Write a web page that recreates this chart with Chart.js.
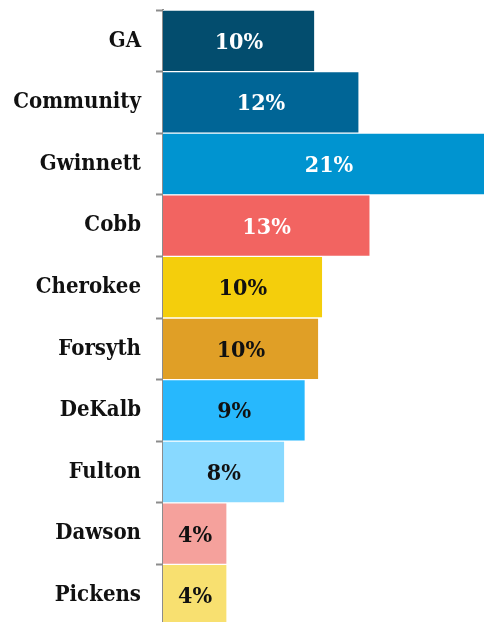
<!DOCTYPE html>
<html>
<head>
<meta charset="utf-8">
<script src="https://cdn.jsdelivr.net/npm/chart.js@4"></script>
<style>
  html, body { margin: 0; padding: 0; background: #fff; overflow: hidden; }
  #wrap { width: 484px; height: 630px; }
</style>
</head>
<body>
<div id="wrap"><canvas id="grafico" width="484" height="630"></canvas></div>
<script>
const areas = ["GA", "Community", "Gwinnett", "Cobb", "Cherokee", "Forsyth", "DeKalb", "Fulton", "Dawson", "Pickens"];
const shares = [9.6, 12.4, 21.0, 13.1, 10.1, 9.85, 9.0, 7.7, 4.05, 4.05];
const barColors = ["#034d6e", "#006596", "#0094d0", "#f26461", "#f4ce0c", "#e09f26", "#27b8fd", "#88d9ff", "#f5a19c", "#f8e070"];
const labelColors = ["#fff", "#fff", "#fff", "#fff", "#111", "#111", "#111", "#111", "#111", "#111"];

const serif = "'DejaVu Serif Condensed', 'DejaVu Serif', serif";

// percent text in the middle of each bar
const barLabels = {
  id: "barLabels",
  afterDatasetsDraw(chart) {
    const ctx = chart.ctx;
    const meta = chart.getDatasetMeta(0);
    ctx.save();
    ctx.font = "bold 23px " + serif;
    ctx.textAlign = "center";
    ctx.textBaseline = "middle";
    meta.data.forEach((bar, i) => {
      const { x, y, base } = bar.getProps(["x", "y", "base"], true);
      ctx.fillStyle = labelColors[i];
      ctx.fillText(Math.round(shares[i]) + "%", (x + base) / 2, y + 2);
    });
    ctx.restore();
  }
};

new Chart(document.getElementById("grafico"), {
  type: "bar",
  data: {
    labels: areas,
    datasets: [{
      data: shares,
      backgroundColor: barColors,
      borderColor: "#ffffff",
      borderWidth: 1,
      barPercentage: 1,
      categoryPercentage: 1
    }]
  },
  options: {
    indexAxis: "y",
    responsive: false,
    animation: false,
    layout: { padding: { top: 10, bottom: 4, left: 0, right: 0 } },
    plugins: { legend: { display: false }, tooltip: { enabled: false } },
    scales: {
      x: { display: false, min: 0, max: 20.3 },
      y: {
        afterFit(scale) {
          scale.width = 163;
          scale.paddingTop = 0;
          scale.paddingBottom = 0;
        },
        border: { display: true, color: "#8c8c8c", width: 2 },
        grid: {
          offset: true,
          drawOnChartArea: false,
          drawTicks: true,
          tickLength: 7,
          tickWidth: 2,
          tickColor: "#8c8c8c"
        },
        ticks: {
          padding: 15,
          color: "#111",
          font: { family: serif, size: 22, weight: "bold" }
        }
      }
    }
  },
  plugins: [barLabels]
});
</script>
</body>
</html>
